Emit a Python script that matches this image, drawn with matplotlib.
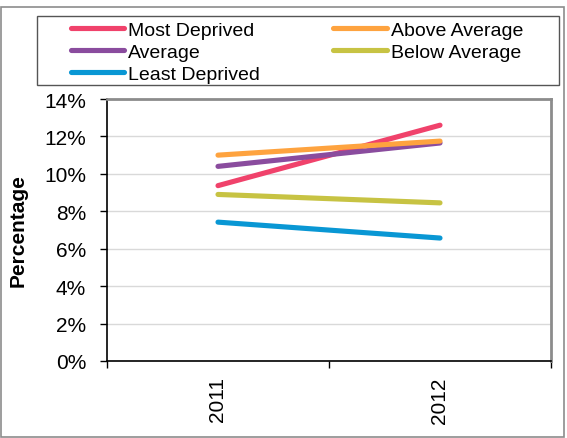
import matplotlib.pyplot as plt
from matplotlib.ticker import FuncFormatter, FixedLocator
from matplotlib.patches import Rectangle

plt.rcParams['font.family'] = ['Liberation Sans', 'DejaVu Sans']

years = ['2011', '2012']
most_deprived = [9.37, 12.6]
above_average = [11.0, 11.75]
average = [10.4, 11.65]
below_average = [8.9, 8.45]
least_deprived = [7.42, 6.57]

series = [
    ('Most Deprived', most_deprived, '#F0426B'),
    ('Average', average, '#8A4C9E'),
    ('Least Deprived', least_deprived, '#0997D4'),
    ('Above Average', above_average, '#FEA33F'),
    ('Below Average', below_average, '#C7C343'),
]

W, H = 567, 439
fig = plt.figure(figsize=(W / 100, H / 100), dpi=100)
ax = fig.add_axes([107 / W, 1 - 362 / H, 444 / W, 262 / H])

xs = [i + 0.5 for i in range(len(years))]
handles = {}
for name, vals, col in series:
    h, = ax.plot(xs, vals, color=col, lw=3.7, solid_capstyle='round', label=name)
    handles[name] = h

ax.set_xlim(0, len(years))
ax.set_ylim(0, 14)
ax.set_yticks(range(0, 15, 2))
ax.yaxis.set_major_formatter(FuncFormatter(lambda v, p: f'{v:.0f}%'))
ax.set_xticks(xs)
ax.set_xticklabels(years, rotation=90)
ax.xaxis.set_minor_locator(FixedLocator(range(len(years) + 1)))
ax.tick_params(axis='x', which='major', length=0, pad=11, labelsize=15)
ax.tick_params(axis='x', which='minor', length=5, width=1, direction='out')
ax.tick_params(axis='y', length=5, width=1, direction='out', labelsize=15, pad=10)
ax.grid(axis='y', color='#D9D9D9', lw=1)
ax.set_axisbelow(True)
for s in ['top', 'right']:
    ax.spines[s].set_color('#8C8C8C')
    ax.spines[s].set_linewidth(2)
for s in ['left', 'bottom']:
    ax.spines[s].set_color('black')
    ax.spines[s].set_linewidth(1.2)
ax.set_ylabel('Percentage', fontsize=15, fontweight='bold', va='center')
ax.yaxis.set_label_coords((18 - 107) / 444, 0.5)

order = ['Most Deprived', 'Average', 'Least Deprived', 'Above Average', 'Below Average']
leg = fig.legend([handles[n] for n in order], order, ncol=2,
                 loc='upper left', bbox_to_anchor=(71 / W, 1 - 22 / H),
                 fontsize=14, frameon=False, handlelength=2.75, handletextpad=0.2,
                 labelspacing=0.23, borderpad=0, borderaxespad=0, columnspacing=3.75)

# legend frame and outer chart border
fig.patches.append(Rectangle((37 / W, 1 - 86 / H), (559 - 37) / W, 69 / H,
                             transform=fig.transFigure, fill=False,
                             edgecolor='#555555', lw=1))
fig.patches.append(Rectangle((1 / W, 0.002), 563 / W, 1 - 8 / H - 0.002,
                             transform=fig.transFigure, fill=False,
                             edgecolor='#8C8C8C', lw=1.2))

fig.savefig('out.png', dpi=100)
